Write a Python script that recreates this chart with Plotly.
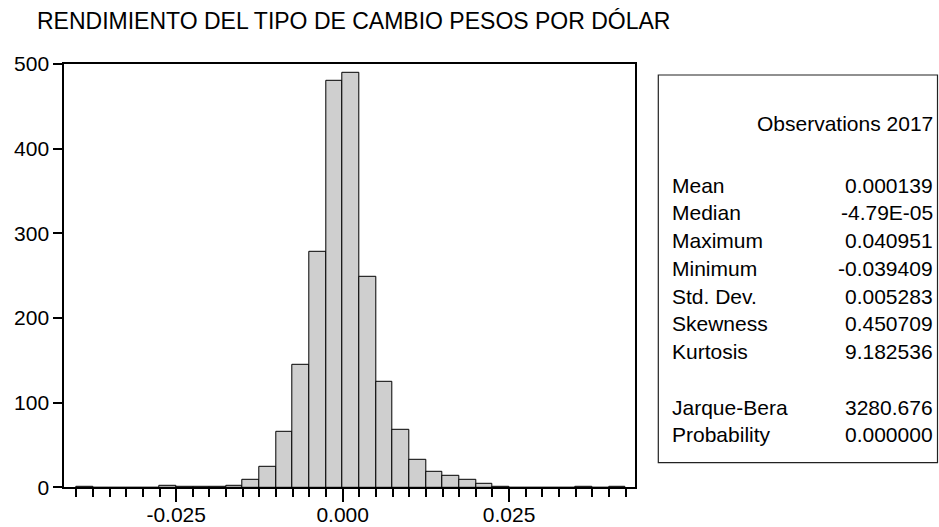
import numpy as np
import plotly.graph_objects as go

# Histogram of daily returns: bins of width 0.0025 starting at -0.04
bin_start = -0.04
bin_width = 0.0025
counts = [1, 0, 0, 0, 0, 2, 1, 1, 1, 2, 9, 24, 65, 145, 278, 480,
          489, 248, 124, 68, 32, 18, 14, 9, 4, 1, 0, 0, 0, 0, 1, 0, 1]

x_ticks = [-0.025, 0.0, 0.025]
x_tick_text = ["-0.025", "0.000", "0.025"]
y_ticks = [0, 100, 200, 300, 400, 500]

title_text = "RENDIMIENTO DEL TIPO DE CAMBIO PESOS POR DÓLAR"
obs_text = "Observations 2017"
stat_names = ["Mean", "Median", "Maximum", "Minimum", "Std. Dev.",
              "Skewness", "Kurtosis", "", "Jarque-Bera", "Probability"]
stat_values = ["0.000139", "-4.79E-05", "0.040951", "-0.039409", "0.005283",
               "0.450709", "9.182536", "", "3280.676", "0.000000"]

W, H = 939, 527
FONT = "Liberation Sans, Arial, sans-serif"

def px(x):
    return x / W

def py(y):
    return 1 - y / H

centers = bin_start + bin_width * (np.arange(len(counts)) + 0.5)

fig = go.Figure()
fig.add_trace(go.Bar(
    x=centers, y=counts, width=bin_width,
    marker=dict(color="#cfcfcf", line=dict(color="black", width=1)),
    hoverinfo="x+y",
))

fig.update_layout(
    template="none",
    width=W, height=H, autosize=False,
    margin=dict(l=0, r=0, t=0, b=0, pad=0),
    paper_bgcolor="white", plot_bgcolor="white",
    showlegend=False, bargap=0,
    font=dict(family=FONT, color="black", size=21),
    xaxis=dict(
        domain=[px(64.3), px(635)],
        range=[-0.0418, 0.0439],
        automargin=False,
        tickmode="array", tickvals=x_ticks, ticktext=x_tick_text,
        ticks="outside", ticklen=13, tickwidth=1.5, tickcolor="black",
        ticklabelstandoff=-6,
        minor=dict(tickmode="linear", tick0=0, dtick=bin_width,
                   ticks="outside", ticklen=8, tickwidth=1.5,
                   tickcolor="black", showgrid=False),
        showline=True, linecolor="black", linewidth=2, mirror=True,
        showgrid=False, zeroline=False,
        tickfont=dict(size=21),
    ),
    yaxis=dict(
        domain=[py(487.3), py(63.8)],
        range=[0, 500],
        automargin=False,
        tickmode="array", tickvals=y_ticks,
        ticks="outside", ticklen=9, tickwidth=1.5, tickcolor="black",
        showline=True, linecolor="black", linewidth=2, mirror=True,
        showgrid=False, zeroline=False,
        tickfont=dict(size=21),
    ),
)

annotations = [
    dict(text=title_text, x=px(35), y=py(21), xanchor="left", yanchor="middle",
         font=dict(size=23)),
    dict(text=obs_text, x=px(935), y=py(123.5), xanchor="right", yanchor="middle",
         font=dict(size=21)),
]
row0, step = 185.0, 27.75
for i, (name, val) in enumerate(zip(stat_names, stat_values)):
    if not name:
        continue
    yy = py(row0 + i * step)
    annotations.append(dict(text=name, x=px(670), y=yy, xanchor="left",
                            yanchor="middle", font=dict(size=21)))
    annotations.append(dict(text=val, x=px(935), y=yy, xanchor="right",
                            yanchor="middle", font=dict(size=21)))
for a in annotations:
    a.update(xref="paper", yref="paper", showarrow=False)
fig.update_layout(annotations=annotations)

# Frame around the statistics panel
fig.add_shape(type="rect", xref="paper", yref="paper",
              x0=px(658.3), x1=px(937.5), y0=py(462.7), y1=py(75),
              line=dict(color="#222222", width=1.2), fillcolor="rgba(0,0,0,0)")

fig.write_html("out.html")
